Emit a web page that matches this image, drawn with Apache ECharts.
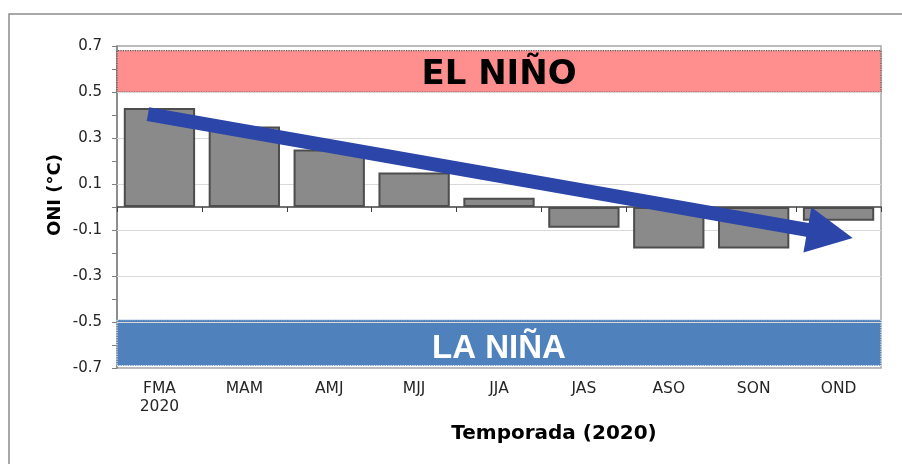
<!DOCTYPE html>
<html>
<head>
<meta charset="utf-8">
<script src="https://cdn.jsdelivr.net/npm/echarts@6/dist/echarts.min.js"></script>
<style>
  html, body { margin: 0; padding: 0; background: #fff; }
  #chart { width: 902px; height: 464px; }
</style>
</head>
<body>
<div id="chart"></div>
<script>
// Seasonal ONI values for 2020 (three-month running seasons)
const seasons = ['FMA\n2020', 'MAM', 'AMJ', 'MJJ', 'JJA', 'JAS', 'ASO', 'SON', 'OND'];
const oniValues = [0.43, 0.35, 0.25, 0.15, 0.04, -0.09, -0.18, -0.18, -0.06];

// Value-axis range and labelled gridlines
const yRange = [-0.7, 0.7];
const gridValues = [0.5, 0.3, 0.1, -0.1, -0.3, -0.5];

// Threshold bands
const elNinoBand = [0.5, 0.68];
const laNinaBand = [-0.69, -0.49];

// Trend arrow, in (season position, ONI) space
const trendStart = [-0.135, 0.404];
const trendEnd = [7.90, -0.117];

const FONT = 'DejaVu Sans';

const chart = echarts.init(document.getElementById('chart'), null, { renderer: 'canvas' });

chart.setOption({
  animation: false,
  backgroundColor: '#ffffff',
  grid: {
    left: 117, right: 21, top: 46, bottom: 96,
    show: true, borderColor: '#a6a6a6', borderWidth: 1.5, backgroundColor: 'transparent'
  },
  xAxis: [
    { // axis line and ticks along zero
      type: 'category', data: seasons, position: 'bottom',
      axisLine: { show: true, onZero: true, lineStyle: { color: '#404040', width: 1.5 } },
      axisTick: { show: true, length: 5, lineStyle: { color: '#404040' } },
      axisLabel: { show: false },
      splitLine: { show: false }
    },
    { // season labels along the bottom of the plot
      type: 'category', data: seasons, position: 'bottom',
      axisLine: { show: false, onZero: false },
      axisTick: { show: false },
      axisLabel: { show: true, margin: 12, fontFamily: FONT, fontSize: 15.5, color: '#262626', lineHeight: 18 },
      splitLine: { show: false }
    },
    { // continuous position scale for the trend arrow
      type: 'value', min: -0.5, max: 8.5, show: false, position: 'top',
      axisLine: { onZero: false },
      splitLine: { show: false }
    }
  ],
  yAxis: {
    type: 'value', min: yRange[0], max: yRange[1], interval: 0.1, position: 'left',
    axisLine: { show: true, onZero: false, lineStyle: { color: '#7f7f7f', width: 1.5 } },
    axisTick: { show: true, length: 5, lineStyle: { color: '#7f7f7f' } },
    axisLabel: {
      margin: 15, fontFamily: FONT, fontSize: 15, color: '#262626',
      formatter: v => {
        const t = Math.round(v * 10);
        return t % 2 !== 0 ? (t / 10).toFixed(1) : '';
      }
    },
    splitLine: { show: false }
  },
  graphic: [
    { type: 'rect', shape: { x: 9, y: 14, width: 1000, height: 500 },
      style: { fill: null, stroke: '#8c8c8c', lineWidth: 1.5 }, silent: true, z: 0 },
    { type: 'text', x: 55, y: 195, rotation: Math.PI / 2,
      style: { text: 'ONI (°C)', fontFamily: FONT, fontWeight: 'bold', fontSize: 18,
               fill: '#000', align: 'center', verticalAlign: 'middle' } },
    { type: 'text', x: 554, y: 434,
      style: { text: 'Temporada (2020)', fontFamily: FONT, fontWeight: 'bold', fontSize: 20,
               fill: '#000', align: 'center', verticalAlign: 'middle' } }
  ],
  series: [
    {
      name: 'ONI',
      type: 'bar',
      xAxisIndex: 0, yAxisIndex: 0,
      data: oniValues,
      barCategoryGap: '16%',
      z: 3,
      itemStyle: { color: '#8a8a8a', borderColor: '#4d4d4d', borderWidth: 2 },
      markLine: {
        silent: true, z: 1, symbol: ['none', 'none'],
        label: { show: false },
        lineStyle: { color: '#d9d9d9', width: 1, type: 'solid' },
        data: gridValues.map(v => ({ yAxis: v }))
      },
      markArea: {
        silent: true, z: 1,
        data: [
          [
            { yAxis: elNinoBand[0],
              itemStyle: { color: '#ff8f8f', borderColor: '#555', borderWidth: 1.2, borderType: 'dotted' },
              label: { show: true, position: 'inside', offset: [0, 4], formatter: 'EL NIÑO',
                       fontFamily: FONT, fontWeight: 'bold', fontSize: 34, color: '#000' } },
            { yAxis: elNinoBand[1] }
          ],
          [
            { yAxis: laNinaBand[0],
              itemStyle: { color: '#4f81bd', borderColor: '#e8eef8', borderWidth: 1.2, borderType: 'dotted' },
              label: { show: true, position: 'inside', offset: [0, 6], formatter: 'LA NIÑA',
                       fontFamily: 'Liberation Sans', fontWeight: 'bold', fontSize: 33, color: '#ffffff' } },
            { yAxis: laNinaBand[1] }
          ]
        ]
      }
    },
    {
      name: 'Tendencia',
      type: 'line',
      xAxisIndex: 2, yAxisIndex: 0,
      data: [trendStart, trendEnd],
      showSymbol: false, symbol: 'none',
      lineStyle: { width: 0, opacity: 0 },
      silent: true,
      z: 10,
      markLine: {
        silent: true, z: 10,
        symbol: ['none', 'triangle'],
        symbolSize: 46,
        label: { show: false },
        itemStyle: { color: '#2b45a8' },
        lineStyle: { color: '#2b45a8', width: 14, type: 'solid', cap: 'butt' },
        data: [[{ coord: trendStart }, { coord: trendEnd }]]
      }
    }
  ]
});
</script>
</body>
</html>
